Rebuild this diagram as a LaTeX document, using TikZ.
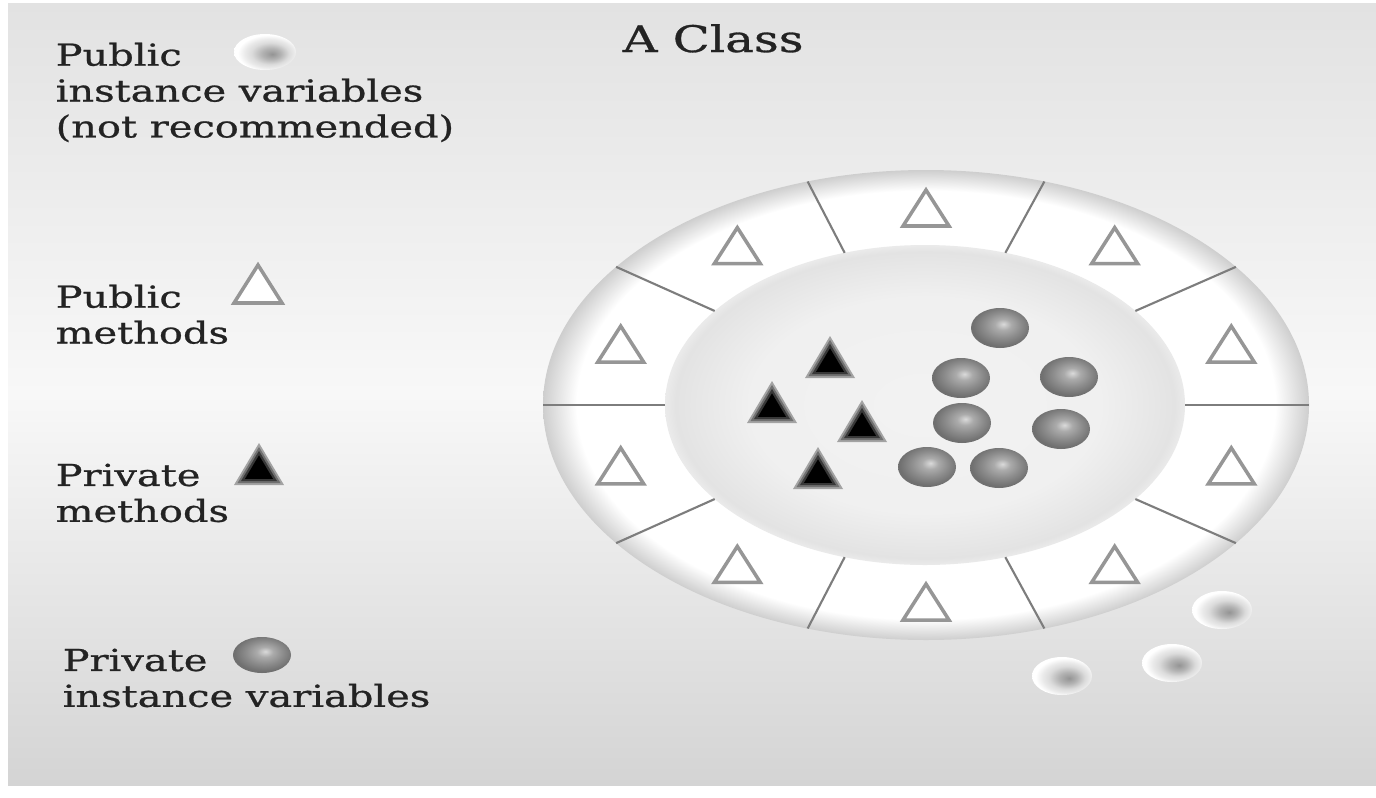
\documentclass[tikz,border=0pt]{standalone}
\usepackage{fontspec}
\newfontfamily\legendfont[FakeStretch=1.32,FakeBold=0.8]{DejaVu Serif}
\usetikzlibrary{positioning}
\definecolor{PanelTop}{RGB}{226,226,226}
\definecolor{PanelMid}{RGB}{248,248,248}
\definecolor{PanelBot}{RGB}{212,212,212}
\definecolor{RingEdge}{RGB}{206,206,206}
\definecolor{BallLight}{RGB}{218,218,218}
\definecolor{MethodGray}{RGB}{150,150,150}
\definecolor{DividerGray}{RGB}{125,125,125}
\definecolor{TextDark}{RGB}{35,35,35}
\pgfdeclareradialshading{ringshade}{\pgfpoint{0bp}{0bp}}{color(0bp)=(white); color(22.8bp)=(white); color(25bp)=(RingEdge); color(50bp)=(RingEdge)}
\pgfdeclareradialshading{discshade}{\pgfpoint{0bp}{0bp}}{color(0bp)=(black!5); color(17bp)=(black!6); color(24bp)=(black!11); color(25bp)=(black!8); color(50bp)=(black!8)}
\pgfdeclareradialshading{privball}{\pgfpoint{3bp}{5bp}}{color(0bp)=(BallLight); color(7bp)=(black!33); color(16bp)=(black!45); color(25bp)=(black!56); color(50bp)=(black!60)}
\pgfdeclareradialshading{pubball}{\pgfpoint{6bp}{-3bp}}{color(0bp)=(black!42); color(7.5bp)=(black!30); color(15bp)=(black!14); color(20bp)=(black!8); color(25bp)=(white); color(50bp)=(white)}

\begin{document}
\begin{tikzpicture}[x=0.01cm,y=-0.01cm,
    pubmeth/.style={draw=MethodGray,line width=1pt,fill=white},
    privvar/.style={shading=privball},
    pubvar/.style={shading=pubball},
    divider/.style={draw=DividerGray,line width=0.6pt},
    legend/.style={font=\legendfont\fontsize{8.6}{10.2}\selectfont,text=TextDark,
      inner sep=0pt,align=left,anchor=north west}]
  \fill[white] (0,0) rectangle (1376,797);
  \shade[top color=PanelTop,bottom color=PanelBot,middle color=PanelMid] (8,3) rectangle (1376,785);

  \shade[shading=ringshade] (926,405) ellipse [x radius=383,y radius=235];
  \shade[shading=discshade] (925,405) ellipse [x radius=260,y radius=160];
  \foreach \t in {0,36,...,324}{
    \draw[divider] ({925+260*cos(\t)},{405-160*sin(\t)}) -- ({926+383*cos(\t)},{405-235*sin(\t)});}
  \foreach \t in {18,54,...,342}{
    \draw[pubmeth,shift={({926+321*cos(\t)},{405-197*sin(\t)})}] (-23,18) -- (23,18) -- (0,-18) -- cycle;}

  \foreach \x/\y in {830/357,772/402,862/421,818/468,259/464}{
    \foreach \s/\c in {1/black!36,0.86/black!56,0.72/black!78,0.56/black}{
      \fill[\c,shift={({\x},{\y+7})},scale=\s] (-25,14) -- (25,14) -- (0,-28) -- cycle;}}
  \foreach \x/\y in {1000/328,961/378,1069/377,962/423,1061/429,927/467,999/468}{
    \shade[privvar] (\x,\y) ellipse [x radius=29,y radius=20];}
  \foreach \x/\y in {1222/610,1172/663,1062/676}{
    \shade[pubvar] (\x,\y) ellipse [x radius=30,y radius=19];}

  \node[legend,font=\legendfont\fontsize{10.4}{12}\selectfont,anchor=base west] (title) at (622,52) {A Class};
  \node[legend] (pubvartext) at (55,42) {Public\\instance variables\\(not recommended)};
  \node[legend] (pubmethtext) at (55,284) {Public\\methods};
  \node[legend] (privmethtext) at (55,463) {Private\\methods};
  \node[legend] (privvartext) at (62,648) {Private\\instance variables};
  \shade[pubvar] (265,52) ellipse [x radius=31,y radius=18];
  \draw[pubmeth,shift={(258,284)}] (-24,19) -- (24,19) -- (0,-19) -- cycle;
  \shade[privvar] (262,655) ellipse [x radius=29,y radius=18];
\end{tikzpicture}
\end{document}
